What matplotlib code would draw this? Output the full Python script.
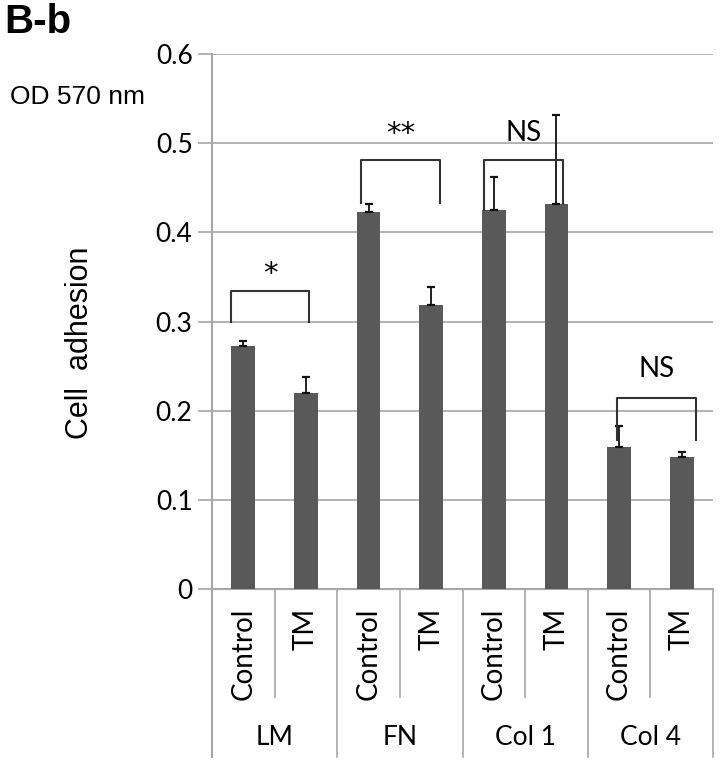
import matplotlib
matplotlib.use("Agg")
import matplotlib.pyplot as plt
import matplotlib.transforms as mtransforms

groups = ["LM", "FN", "Col 1", "Col 4"]
conds = ["Control", "TM"]
values = [0.272, 0.220, 0.423, 0.319, 0.425, 0.432, 0.159, 0.148]
errors = [0.006, 0.018, 0.009, 0.020, 0.037, 0.100, 0.024, 0.006]
yticks = [0, 0.1, 0.2, 0.3, 0.4, 0.5, 0.6]
ytick_labels = ["0", "0.1", "0.2", "0.3", "0.4", "0.5", "0.6"]
# significance brackets: (x_left, x_right, top, left_leg_end, right_leg_end, label, label_y)
brackets = [
    (-0.20, 1.05, 0.334, 0.300, 0.300, "*", 0.361),
    (1.88, 3.14, 0.481, 0.433, 0.433, "**", 0.518),
    (3.85, 5.10, 0.481, 0.425, 0.432, "NS", 0.511),
    (5.97, 7.23, 0.2146, 0.167, 0.167, "NS", 0.247),
]

LAB = ["Lato", "DejaVu Sans"]
ARI = ["Liberation Sans", "DejaVu Sans"]
GRID = "#a6a6a6"

fig = plt.figure(figsize=(7.2, 7.64), dpi=100)
ax = fig.add_axes([212/720, 1-589/764, (713-212)/720, (589-54)/764])

x = list(range(len(values)))
ax.bar(x, values, width=0.38, color="#595959", zorder=3)
ax.errorbar(x, values, yerr=[[0]*len(errors), errors], fmt="none",
            ecolor="#111111", elinewidth=1.3, capsize=3.2, capthick=1.6, zorder=4)

ax.set_xlim(-0.5, 7.5)
ax.set_ylim(0, 0.6)
ax.set_yticks(yticks)
ax.set_yticklabels(ytick_labels, fontfamily=LAB, fontsize=19)
ax.yaxis.grid(True, color=GRID, lw=1.2, zorder=0)
ax.tick_params(axis="y", length=10, width=1.2, color=GRID, pad=4)
ax.set_xticks([])
for s in ["top", "right"]:
    ax.spines[s].set_visible(False)
ax.spines["left"].set_color(GRID)
ax.spines["left"].set_linewidth(1.5)
ax.spines["bottom"].set_color(GRID)
ax.spines["bottom"].set_linewidth(1.5)

# x category lines
trans = mtransforms.blended_transform_factory(ax.transData, ax.transAxes)
for i in range(len(values) + 1):
    xpos = i - 0.5
    ybot = -0.314 if i % 2 == 0 else -0.202
    ax.plot([xpos, xpos], [0, ybot], transform=trans, color=GRID, lw=1.2, clip_on=False)
ax.plot([-0.5, -0.5], [0, -0.314], transform=trans, color=GRID, lw=1.5, clip_on=False)

for i in range(len(values)):
    ax.text(i, -0.035, conds[i % 2], transform=trans, rotation=90, ha="center", va="top",
            fontfamily=LAB, fontsize=20)
for g, name in enumerate(groups):
    ax.text(2*g + 0.5, -0.277, name, transform=trans, ha="center", va="center",
            fontfamily=LAB, fontsize=19)

for xl, xr, top, ll, rl, lab, ly in brackets:
    ax.plot([xl, xl, xr, xr], [ll, top, top, rl], color="#333333", lw=1.5, zorder=5)
    if "*" in lab:
        ax.text((xl + xr)/2, ly - 0.008, lab, ha="center", va="center",
                fontfamily=["DejaVu Sans"], fontsize=21, zorder=6)
    else:
        ax.text((xl + xr)/2, ly, lab, ha="center", va="center", fontfamily=LAB,
                fontsize=20, zorder=6)

fig.text(80/720, 1-343/764, "Cell  adhesion", rotation=90, ha="center", va="center",
         fontfamily=ARI, fontsize=22)
fig.text(10/720, 1-97/764, "OD 570 nm", ha="left", va="center", fontfamily=ARI, fontsize=19)
fig.text(4/720, 1-22/764, "B-b", ha="left", va="center", fontfamily=ARI, fontsize=29,
         fontweight="bold")

fig.savefig("out.png", dpi=100)
